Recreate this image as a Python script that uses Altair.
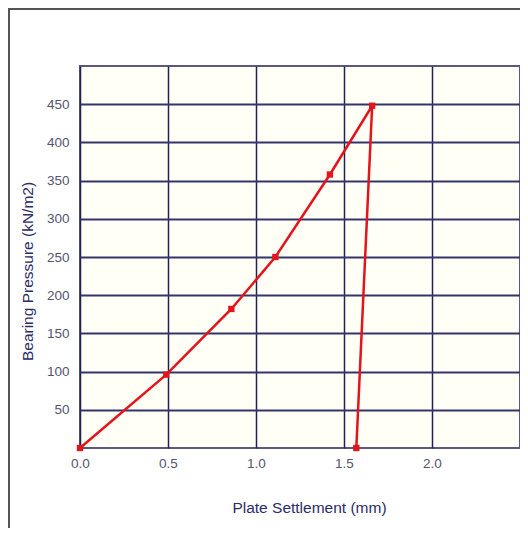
import altair as alt
import pandas as pd

settlement = [0.0, 0.49, 0.86, 1.11, 1.42, 1.66, 1.57]
pressure = [0, 96, 182, 250, 358, 448, 0]
step = [0, 1, 2, 3, 4, 5, 6]
x_ticks = [0.0, 0.5, 1.0, 1.5, 2.0]
y_ticks = [50, 100, 150, 200, 250, 300, 350, 400, 450]

df = pd.DataFrame({"settlement": settlement, "pressure": pressure, "step": step})

FONT = "Liberation Sans"

x_enc = alt.X(
    "settlement:Q",
    scale=alt.Scale(domain=[0, 2.5], nice=False, zero=False),
    axis=alt.Axis(
        values=x_ticks, format=".1f", title="Plate Settlement (mm)",
        grid=True, gridColor="#22224f", gridWidth=1.5, domain=False, ticks=False,
        labelFlush=False,
        labelPadding=8, labelFontSize=13.5, labelColor="#55556e", labelFont=FONT,
        titleFontSize=15.5, titleColor="#2c2c66", titleFont=FONT, titleFontWeight="normal",
        titleX=229, titleY=52, titleBaseline="top",
    ),
)
y_enc = alt.Y(
    "pressure:Q",
    scale=alt.Scale(domain=[0, 500], nice=False),
    axis=alt.Axis(
        values=y_ticks, title="Bearing Pressure (kN/m2)",
        grid=True, gridColor="#34346a", gridWidth=1.8, domain=False, ticks=False,
        labelFlush=False,
        labelPadding=11, labelFontSize=13.5, labelColor="#55556e", labelFont=FONT,
        titleFontSize=15.5, titleColor="#2c2c66", titleFont=FONT, titleFontWeight="normal",
        titleX=-45, titleY=205, titleBaseline="bottom",
    ),
)

line = alt.Chart(df).mark_line(color="#e3141b", strokeWidth=2.5).encode(
    x=x_enc, y=y_enc, order=alt.Order("step:Q")
)
pts = alt.Chart(df).mark_point(shape="square", filled=True, color="#e3141b", size=40, opacity=1).encode(
    x="settlement:Q", y="pressure:Q"
)
frame = alt.Chart(pd.DataFrame({"a": [0]})).mark_rect(
    fill=None, stroke="#555555", strokeWidth=2
).encode(x=alt.value(-71), x2=alt.value(900), y=alt.value(-57), y2=alt.value(900))

chart = alt.layer(frame, line, pts).properties(
    width=440, height=382,
    background="white",
    autosize=alt.AutoSizeParams(type="none"),
    padding={"left": 72, "top": 58, "right": 0, "bottom": 80},
).configure_view(
    fill="#fffff6", stroke="#5a5a7e", strokeWidth=2
)

chart.save("out.html", embed_options={"renderer": "svg", "actions": False})
